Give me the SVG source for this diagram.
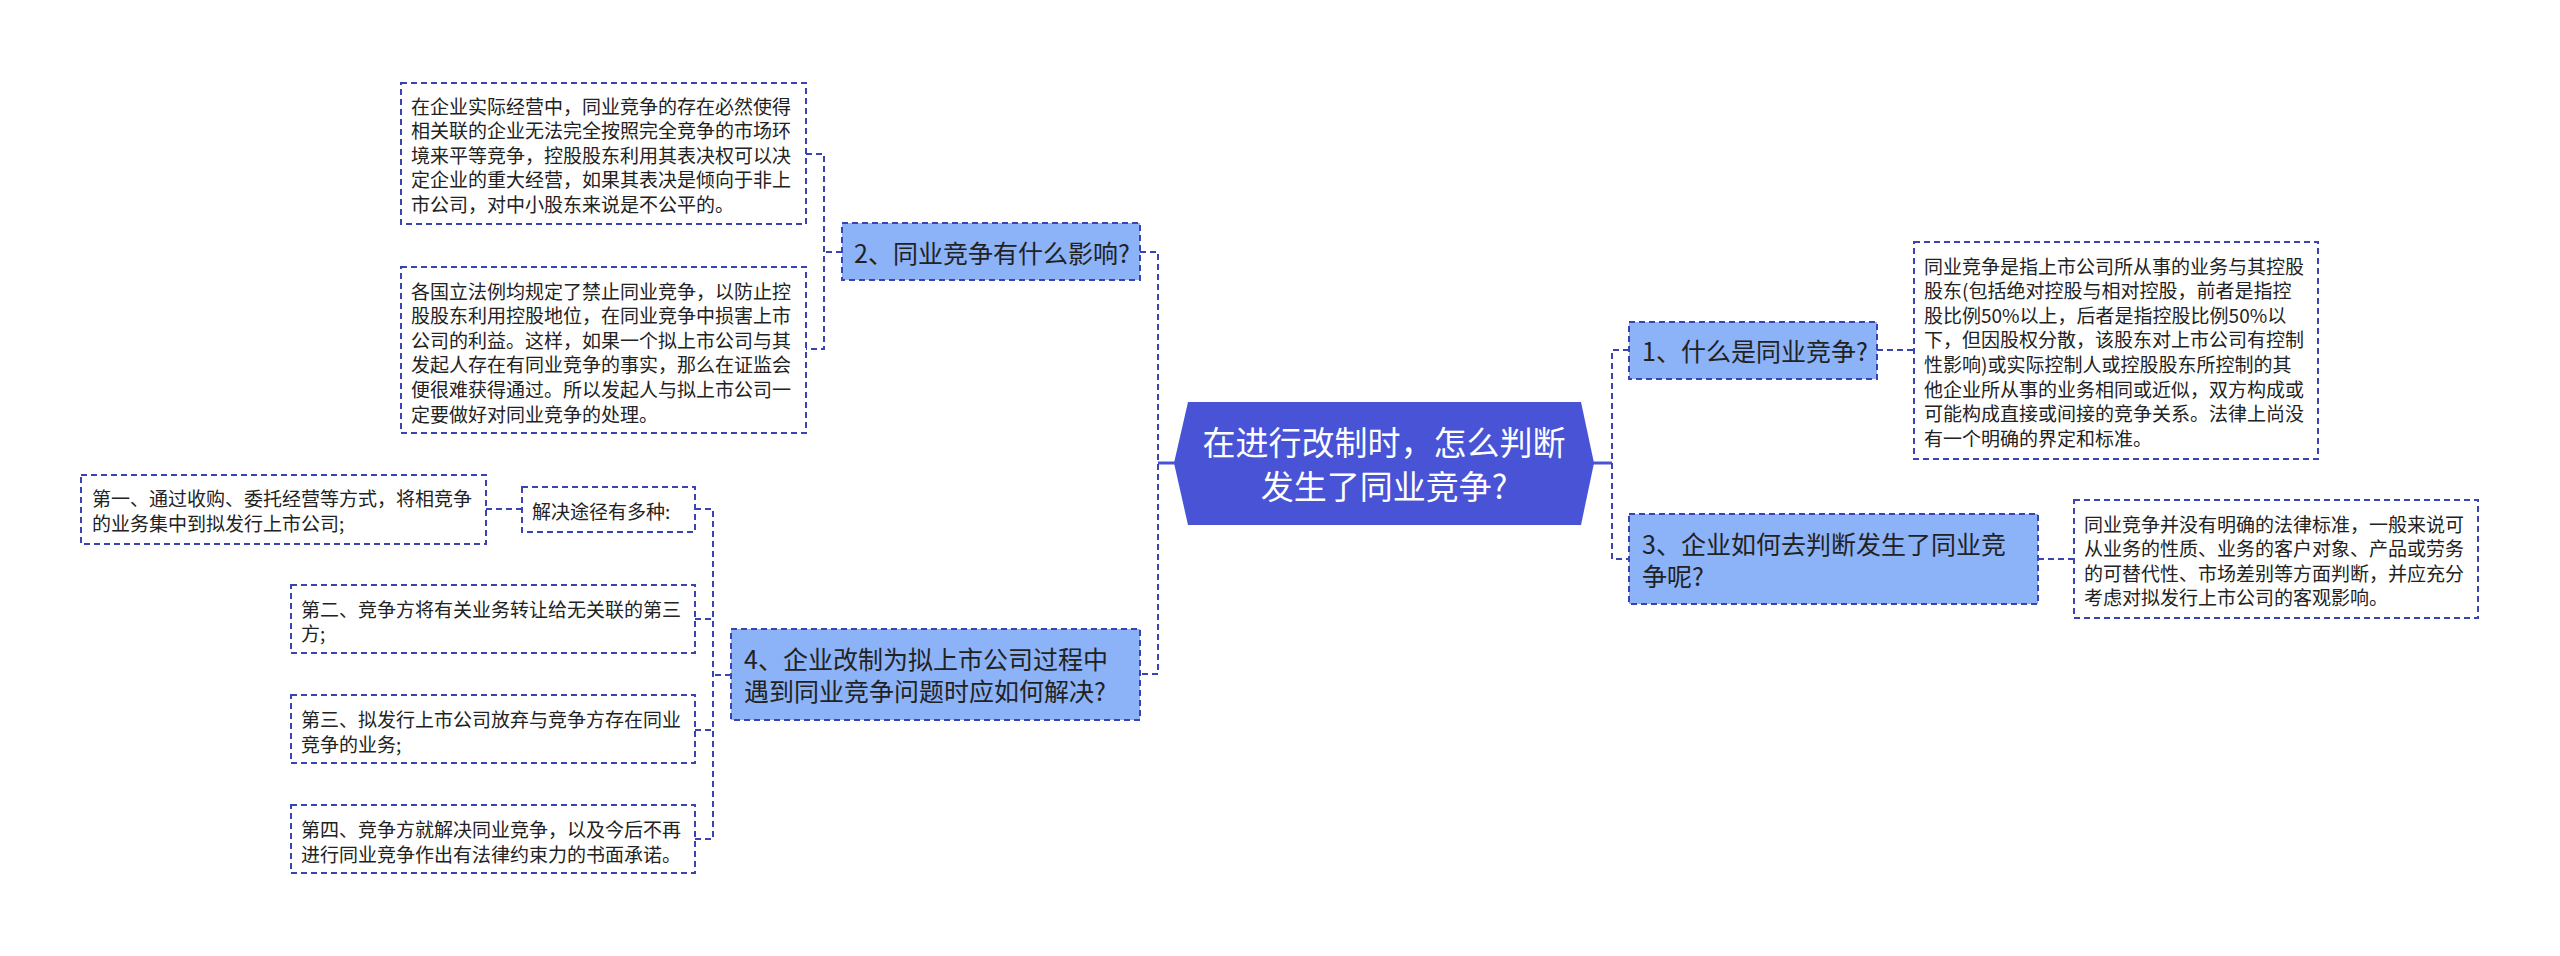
<svg xmlns="http://www.w3.org/2000/svg" width="2560" height="956" viewBox="0 0 2560 956">
<style>
text{font-family:"Microsoft YaHei","Noto Sans CJK SC","Noto Sans",sans-serif;dominant-baseline:central;fill:#222}
.detail rect{fill:#fff;stroke:#3a43b4;stroke-width:2;stroke-dasharray:6 4}
.detail text{font-size:19px}
.topic rect{fill:#8cb2f8;stroke:#3a43b4;stroke-width:2;stroke-dasharray:6 4}
.topic text{font-size:25px}
.conn path{fill:none;stroke:#3a43b4;stroke-width:2;stroke-dasharray:6 4}
.conn path.solid{stroke:#4853d6;stroke-width:3;stroke-dasharray:none}
.root text{font-size:33px;fill:#fff;text-anchor:middle}
</style>
<rect width="2560" height="956" fill="#fff"/>
<g id="connectors" class="conn">
<path class="solid" d="M1175 463H1158"/>
<path class="solid" d="M1593 463H1612"/>
<path d="M1140 252H1158V674H1140"/>
<path d="M1629 350H1612V559H1629"/>
<path d="M1877 350H1914"/>
<path d="M2038 559H2074"/>
<path d="M842 252H824"/>
<path d="M806 154H824V349H806"/>
<path d="M731 675H713"/>
<path d="M695 509H713V839H695"/>
<path d="M695 619H713"/>
<path d="M695 730H713"/>
<path d="M486 509H522"/>
</g>
<g id="root" class="root">
<polygon points="1174,463 1188,402 1581,402 1594,463 1581,525 1188,525" fill="#4853d6"/>
<text x="1384" y="441">在进行改制时，怎么判断</text>
<text x="1384" y="485">发生了同业竞争?</text>
</g>
<g id="n1" class="topic">
<rect x="1629" y="322" width="248" height="57"/>
<text x="1642" y="350">1、什么是同业竞争?</text>
</g>
<g id="n1d" class="detail">
<rect x="1914" y="242" width="404" height="217"/>
<text x="1924" y="265">同业竞争是指上市公司所从事的业务与其控股</text>
<text x="1924" y="289.6">股东(包括绝对控股与相对控股，前者是指控</text>
<text x="1924" y="314.2">股比例50%以上，后者是指控股比例50%以</text>
<text x="1924" y="338.8">下，但因股权分散，该股东对上市公司有控制</text>
<text x="1924" y="363.4">性影响)或实际控制人或控股股东所控制的其</text>
<text x="1924" y="388">他企业所从事的业务相同或近似，双方构成或</text>
<text x="1924" y="412.6">可能构成直接或间接的竞争关系。法律上尚没</text>
<text x="1924" y="437.2">有一个明确的界定和标准。</text>
</g>
<g id="n3" class="topic">
<rect x="1629" y="514" width="409" height="90"/>
<text x="1642" y="543">3、企业如何去判断发生了同业竞</text>
<text x="1642" y="575">争呢?</text>
</g>
<g id="n3d" class="detail">
<rect x="2074" y="500" width="404" height="118"/>
<text x="2084" y="523">同业竞争并没有明确的法律标准，一般来说可</text>
<text x="2084" y="547.6">从业务的性质、业务的客户对象、产品或劳务</text>
<text x="2084" y="572.2">的可替代性、市场差别等方面判断，并应充分</text>
<text x="2084" y="596.8">考虑对拟发行上市公司的客观影响。</text>
</g>
<g id="n2" class="topic">
<rect x="842" y="223" width="298" height="57"/>
<text x="854" y="252">2、同业竞争有什么影响?</text>
</g>
<g id="n2a" class="detail">
<rect x="401" y="83" width="405" height="141"/>
<text x="411" y="105">在企业实际经营中，同业竞争的存在必然使得</text>
<text x="411" y="129.6">相关联的企业无法完全按照完全竞争的市场环</text>
<text x="411" y="154.2">境来平等竞争，控股股东利用其表决权可以决</text>
<text x="411" y="178.8">定企业的重大经营，如果其表决是倾向于非上</text>
<text x="411" y="203.4">市公司，对中小股东来说是不公平的。</text>
</g>
<g id="n2b" class="detail">
<rect x="401" y="267" width="405" height="166"/>
<text x="411" y="290">各国立法例均规定了禁止同业竞争，以防止控</text>
<text x="411" y="314.6">股股东利用控股地位，在同业竞争中损害上市</text>
<text x="411" y="339.2">公司的利益。这样，如果一个拟上市公司与其</text>
<text x="411" y="363.8">发起人存在有同业竞争的事实，那么在证监会</text>
<text x="411" y="388.4">便很难获得通过。所以发起人与拟上市公司一</text>
<text x="411" y="413">定要做好对同业竞争的处理。</text>
</g>
<g id="n4" class="topic">
<rect x="731" y="629" width="409" height="91"/>
<text x="744" y="658">4、企业改制为拟上市公司过程中</text>
<text x="744" y="690">遇到同业竞争问题时应如何解决?</text>
</g>
<g id="n4a" class="detail">
<rect x="522" y="487" width="173" height="45"/>
<text x="532" y="510">解决途径有多种:</text>
</g>
<g id="n4a1" class="detail">
<rect x="81" y="475" width="405" height="69"/>
<text x="92" y="497">第一、通过收购、委托经营等方式，将相竞争</text>
<text x="92" y="522">的业务集中到拟发行上市公司;</text>
</g>
<g id="n4b" class="detail">
<rect x="291" y="585" width="404" height="68"/>
<text x="301" y="608">第二、竞争方将有关业务转让给无关联的第三</text>
<text x="301" y="632">方;</text>
</g>
<g id="n4c" class="detail">
<rect x="291" y="695" width="404" height="68"/>
<text x="301" y="718">第三、拟发行上市公司放弃与竞争方存在同业</text>
<text x="301" y="743">竞争的业务;</text>
</g>
<g id="n4d" class="detail">
<rect x="291" y="805" width="404" height="68"/>
<text x="301" y="828">第四、竞争方就解决同业竞争，以及今后不再</text>
<text x="301" y="853">进行同业竞争作出有法律约束力的书面承诺。</text>
</g>
</svg>
